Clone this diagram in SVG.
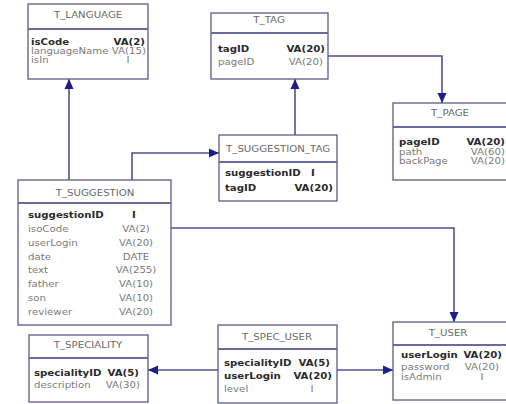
<svg xmlns="http://www.w3.org/2000/svg" width="506" height="404" viewBox="0 0 506 404">
  <style>
    .box { fill: #ffffff; stroke: #5a5a8c; stroke-width: 1.3; }
    .sep { stroke: #6a6a9c; stroke-width: 2.2; }
    text { font-family: "DejaVu Sans", Verdana, sans-serif; font-size: 8.5px; transform-box: fill-box; transform: scaleX(1.2); transform-origin: left center; }
    .title { fill: #6a6a6a; text-anchor: middle; transform-origin: center; }
    .key { font-weight: bold; fill: #2a2a2a; }
    .fld { fill: #7a7a7a; }
    .r { text-anchor: end; transform-origin: right center; }
    .m { text-anchor: middle; transform-origin: center; }
    .link { fill: none; stroke: #50508e; stroke-width: 1.6; marker-end: url(#arrow); }
  </style>
  <defs>
    <marker id="arrow" viewBox="0 0 10 10" refX="10" refY="5" markerWidth="10" markerHeight="10" markerUnits="userSpaceOnUse" orient="auto">
      <path d="M0,0.5 L10,5 L0,9.5 Z" fill="#1c1c8c"/>
    </marker>
  </defs>
  <rect width="506" height="404" fill="#ffffff"/>

  <g id="connectors">
    <path class="link" d="M69,180 V79"/>
    <path class="link" d="M132,180 V153 H219"/>
    <path class="link" d="M295,135 V79"/>
    <path class="link" d="M328,56 H442 V103"/>
    <path class="link" d="M171,228 H454 V322"/>
    <path class="link" d="M218,370 H148"/>
    <path class="link" d="M337,370 H393"/>
  </g>

  <g id="t_language">
    <rect class="box" x="28" y="4" width="120" height="75"/>
    <line class="sep" x1="28" y1="29" x2="148" y2="29"/>
    <text class="title" x="88" y="18">T_LANGUAGE</text>
    <text class="key" x="31" y="45">isCode</text>
    <text class="key r" x="145" y="45">VA(2)</text>
    <text class="fld" x="31" y="54">languageName</text>
    <text class="fld r" x="146" y="54">VA(15)</text>
    <text class="fld" x="31" y="63">isIn</text>
    <text class="fld m" x="128" y="63">I</text>
  </g>

  <g id="t_tag">
    <rect class="box" x="211" y="13" width="117" height="66"/>
    <line class="sep" x1="211" y1="33" x2="328" y2="33"/>
    <text class="title" x="269" y="23">T_TAG</text>
    <text class="key" x="218" y="52">tagID</text>
    <text class="key r" x="325" y="52">VA(20)</text>
    <text class="fld" x="218" y="65">pageID</text>
    <text class="fld r" x="323" y="65">VA(20)</text>
  </g>

  <g id="t_page">
    <rect class="box" x="393" y="103" width="116" height="77"/>
    <line class="sep" x1="393" y1="127" x2="509" y2="127"/>
    <text class="title" x="450" y="116">T_PAGE</text>
    <text class="key" x="399" y="145">pageID</text>
    <text class="key r" x="505" y="145">VA(20)</text>
    <text class="fld" x="399" y="155">path</text>
    <text class="fld r" x="505" y="155">VA(60)</text>
    <text class="fld" x="399" y="164">backPage</text>
    <text class="fld r" x="505" y="164">VA(20)</text>
  </g>

  <g id="t_suggestion_tag">
    <rect class="box" x="219" y="135" width="118" height="66"/>
    <line class="sep" x1="219" y1="162" x2="337" y2="162"/>
    <text class="title" x="278" y="152">T_SUGGESTION_TAG</text>
    <text class="key" x="225" y="176">suggestionID</text>
    <text class="key m" x="313" y="176">I</text>
    <text class="key" x="225" y="191">tagID</text>
    <text class="key r" x="333" y="191">VA(20)</text>
  </g>

  <g id="t_suggestion">
    <rect class="box" x="18" y="180" width="153" height="145"/>
    <line class="sep" x1="18" y1="203" x2="171" y2="203"/>
    <text class="title" x="95" y="196">T_SUGGESTION</text>
    <text class="key" x="28" y="218">suggestionID</text>
    <text class="key m" x="134" y="218">I</text>
    <text class="fld" x="28" y="232">isoCode</text>
    <text class="fld m" x="136" y="232">VA(2)</text>
    <text class="fld" x="28" y="246">userLogin</text>
    <text class="fld m" x="136" y="246">VA(20)</text>
    <text class="fld" x="28" y="260">date</text>
    <text class="fld m" x="136" y="260">DATE</text>
    <text class="fld" x="28" y="273">text</text>
    <text class="fld m" x="136" y="273">VA(255)</text>
    <text class="fld" x="28" y="287">father</text>
    <text class="fld m" x="136" y="287">VA(10)</text>
    <text class="fld" x="28" y="301">son</text>
    <text class="fld m" x="136" y="301">VA(10)</text>
    <text class="fld" x="28" y="315">reviewer</text>
    <text class="fld m" x="136" y="315">VA(20)</text>
  </g>

  <g id="t_speciality">
    <rect class="box" x="29" y="335" width="119" height="67"/>
    <line class="sep" x1="29" y1="358" x2="148" y2="358"/>
    <text class="title" x="88" y="348">T_SPECIALITY</text>
    <text class="key" x="34" y="376">specialityID</text>
    <text class="key r" x="139" y="376">VA(5)</text>
    <text class="fld" x="34" y="388">description</text>
    <text class="fld r" x="140" y="388">VA(30)</text>
  </g>

  <g id="t_spec_user">
    <rect class="box" x="218" y="325" width="119" height="78"/>
    <line class="sep" x1="218" y1="349" x2="337" y2="349"/>
    <text class="title" x="277" y="340">T_SPEC_USER</text>
    <text class="key" x="224" y="366">specialityID</text>
    <text class="key r" x="330" y="366">VA(5)</text>
    <text class="key" x="224" y="379">userLogin</text>
    <text class="key r" x="332" y="379">VA(20)</text>
    <text class="fld" x="224" y="392">level</text>
    <text class="fld m" x="312" y="392">I</text>
  </g>

  <g id="t_user">
    <rect class="box" x="393" y="322" width="116" height="78"/>
    <line class="sep" x1="393" y1="345" x2="509" y2="345"/>
    <text class="title" x="448" y="336">T_USER</text>
    <text class="key" x="401" y="358">userLogin</text>
    <text class="key r" x="502" y="358">VA(20)</text>
    <text class="fld" x="401" y="370">password</text>
    <text class="fld r" x="499" y="370">VA(20)</text>
    <text class="fld" x="401" y="380">isAdmin</text>
    <text class="fld m" x="482" y="380">I</text>
  </g>
</svg>
